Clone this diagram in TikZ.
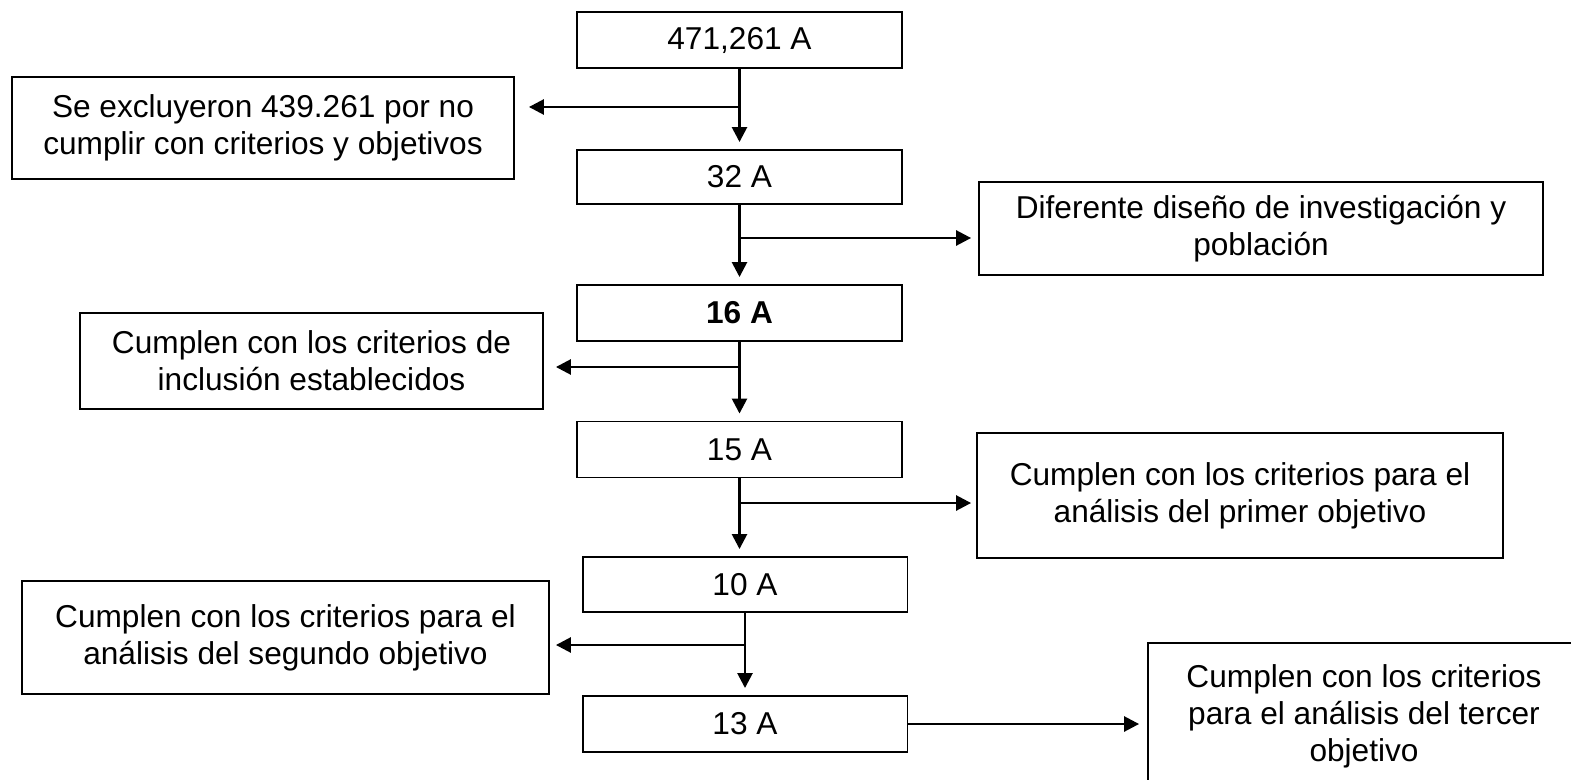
\documentclass[tikz,border=0pt]{standalone}
\usepackage{fontspec}
\setmainfont{Liberation Sans}
\usetikzlibrary{arrows.meta,positioning,calc}

\begin{document}
\begin{tikzpicture}[
    x=0.02cm, y=-0.02cm,
    count/.style={rectangle, draw=black, line width=1.1pt, fill=white,
                  minimum width=6.5cm, minimum height=1.12cm,
                  align=center, inner sep=0pt, font=\fontsize{18}{21}\selectfont},
    note/.style={rectangle, draw=black, line width=1.1pt, fill=white,
                 align=center, inner sep=0pt, font=\fontsize{18}{21}\selectfont},
    arr/.style={-{Triangle[length=0.3cm, width=0.3cm]}, line width=1.5pt},
    trunk/.style={arr, shorten >=0.14cm}
  ]
    \useasboundingbox (0,0) rectangle (1571,780);

    % main column
    \node[count] (b0) at (739.5,40) {471,261 A};
    \node[count, minimum height=1.08cm] (b1) at (739.5,177) {32 A};
    \node[count] (b2) at (739.5,313) {\bfseries 16 A};
    \node[count] (b3) at (739.5,449.5) {15 A};
    \node[count, minimum height=1.1cm] (b4) at (745,584.5) {10 A};
    \node[count] (b5) at (745,724) {13 A};

    % side boxes
    \node[note, minimum width=10.04cm, minimum height=2.04cm] (ex) at (263,128)
      {Se excluyeron 439.261 por no\\cumplir con criterios y objetivos};
    \node[note, minimum width=11.28cm, minimum height=1.86cm] (dif) at (1261,228.5)
      {Diferente diseño de investigación y\\población};
    \node[note, minimum width=9.26cm, minimum height=1.92cm] (inc) at (311.5,361)
      {Cumplen con los criterios de\\inclusión establecidos};
    \node[note, minimum width=10.52cm, minimum height=2.5cm] (pri) at (1240,495.5)
      {Cumplen con los criterios para el\\análisis del primer objetivo};
    \node[note, minimum width=10.54cm, minimum height=2.26cm] (seg) at (285.5,637.5)
      {Cumplen con los criterios para el\\análisis del segundo objetivo};
    \node[note, minimum width=8.64cm, minimum height=2.94cm] (ter) at (1364,716.5)
      {Cumplen con los criterios\\para el análisis del tercer\\objetivo};

    % branch points on the trunk
    \coordinate (j1) at (b0.south |- 0,107);
    \coordinate (j2) at (b1.south |- 0,238);
    \coordinate (j3) at (b2.south |- 0,367);
    \coordinate (j4) at (b3.south |- 0,503);
    \coordinate (j5) at (b4.south |- 0,645);

    \draw[trunk] (b0) -- (b1);
    \draw[trunk] (b1) -- (b2);
    \draw[trunk] (b2) -- (b3);
    \draw[trunk] (b3.south) -- (b3.south |- b4.north);
    \draw[trunk] (b4) -- (b5);

    \draw[arr, shorten >=0.28cm] (j1) -- (j1 -| ex.east);
    \draw[arr, shorten >=0.14cm] (j2) -- (j2 -| dif.west);
    \draw[arr, shorten >=0.24cm] (j3) -- (j3 -| inc.east);
    \draw[arr, shorten >=0.1cm] (j4) -- (j4 -| pri.west);
    \draw[arr, shorten >=0.12cm] (j5) -- (j5 -| seg.east);
    \draw[arr, shorten >=0.16cm] (b5.east) -- (b5.east -| ter.west);
  \end{tikzpicture}
\end{document}
